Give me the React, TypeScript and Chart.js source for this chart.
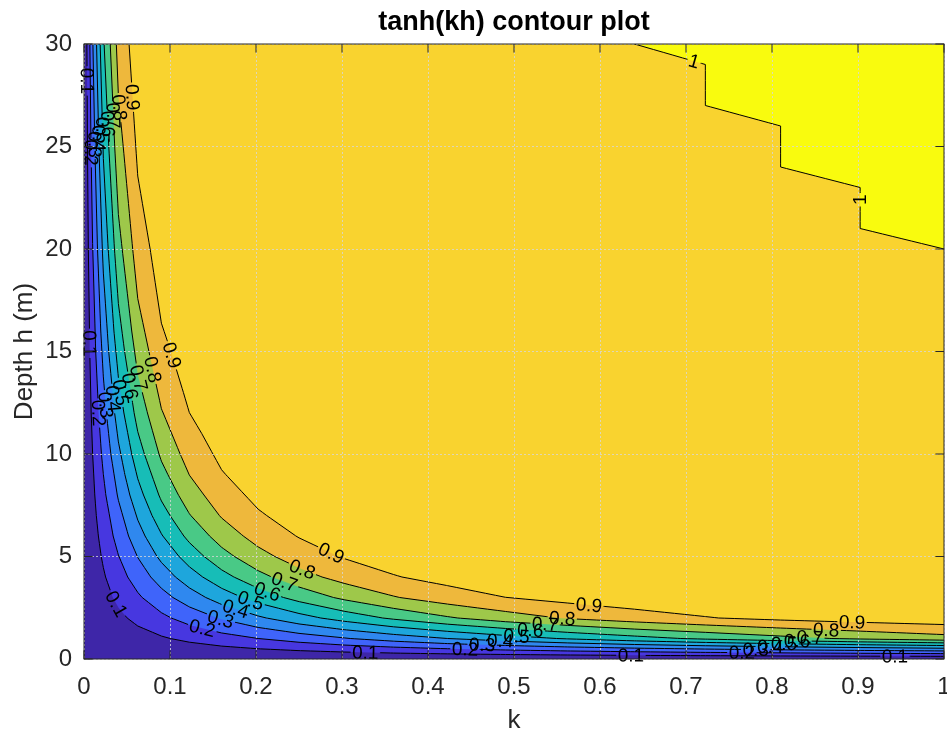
import React, { useEffect, useRef } from "react";
import { Chart, registerables } from "chart.js";

Chart.register(...registerables);

const FONT = "'Liberation Sans', Arial, Helvetica, sans-serif";
const AXIS_COLOR = "#262626";
const GRID_COLOR = "rgba(215,215,215,0.8)";
const TICK_LEN = 8.6;
const LABEL_FONT = `19px ${FONT}`;

// Axis extents and tick labels
const kRange = [0, 1];
const hRange = [0, 30];
const kTickLabels = ["0", "0.1", "0.2", "0.3", "0.4", "0.5", "0.6", "0.7", "0.8", "0.9", "1"];
const hTickLabels = ["0", "5", "10", "15", "20", "25", "30"];

// Contour levels of tanh(kh)
const levels = [0.1, 0.2, 0.3, 0.4, 0.5, 0.6, 0.7, 0.8, 0.9, 1];

// Contour lines, as [k, h] vertices ordered by increasing k
const contour01 = [
  [0.00337, 30], [0.00404, 25], [0.00505, 20], [0.00671, 15], [0.00837, 12], [0.01, 10.03],
  [0.01254, 8], [0.01433, 7], [0.01672, 6], [0.02006, 5], [0.0225, 4.46], [0.0251, 4],
  [0.0335, 3], [0.04, 2.51], [0.0502, 2], [0.0625, 1.61], [0.09, 1.12], [0.1004, 1],
  [0.1225, 0.82], [0.16, 0.63], [0.2025, 0.5], [0.25, 0.408], [0.3025, 0.341], [0.36, 0.29],
  [0.4225, 0.251], [0.49, 0.22], [0.5625, 0.196], [0.64, 0.177], [0.7225, 0.162],
  [0.81, 0.149], [0.9025, 0.139], [1, 0.131],
];
const contour02 = [
  [0.00684, 30], [0.00815, 25], [0.01, 20.27], [0.0136, 15], [0.017, 12], [0.0203, 10],
  [0.0225, 9.01], [0.0254, 8], [0.0339, 6], [0.04, 5.07], [0.0508, 4], [0.0625, 3.25],
  [0.0677, 3], [0.09, 2.26], [0.1015, 2], [0.1225, 1.66], [0.16, 1.27], [0.2025, 1.0],
  [0.25, 0.817], [0.3025, 0.681], [0.36, 0.579], [0.4225, 0.501], [0.49, 0.44],
  [0.5625, 0.392], [0.64, 0.354], [0.7225, 0.323], [0.81, 0.299], [0.9025, 0.279], [1, 0.263],
];
const contour03 = [
  [0.01037, 30], [0.0126, 25], [0.0157, 20], [0.0195, 16], [0.0225, 13.76], [0.026, 12],
  [0.0312, 10], [0.0387, 8], [0.04, 7.74], [0.0518, 6], [0.0625, 4.95], [0.0776, 4],
  [0.09, 3.45], [0.1034, 3], [0.1225, 2.54], [0.1549, 2], [0.16, 1.94], [0.2025, 1.54],
  [0.25, 1.25], [0.3025, 1.03], [0.3096, 1], [0.36, 0.869], [0.4225, 0.752], [0.49, 0.66],
  [0.5625, 0.588], [0.64, 0.531], [0.7225, 0.485], [0.81, 0.448], [0.9025, 0.418], [1, 0.394],
];
const contour04 = [
  [0.0146, 30], [0.0173, 25], [0.0213, 20], [0.0225, 18.83], [0.0287, 15], [0.0356, 12],
  [0.04, 10.59], [0.0475, 9], [0.0533, 8], [0.0625, 6.78], [0.071, 6], [0.0849, 5],
  [0.09, 4.71], [0.1063, 4], [0.1225, 3.47], [0.1416, 3], [0.16, 2.66], [0.2025, 2.1],
  [0.2121, 2], [0.25, 1.71], [0.3025, 1.43], [0.36, 1.2], [0.4225, 1.0], [0.49, 0.881],
  [0.5625, 0.785], [0.64, 0.708], [0.7225, 0.647], [0.81, 0.597], [0.9025, 0.558], [1, 0.525],
];
const contour05 = [
  [0.0188, 30], [0.0225, 24.41], [0.0281, 20], [0.0348, 16], [0.04, 13.73], [0.0464, 12],
  [0.0555, 10], [0.0625, 8.79], [0.0692, 8], [0.0791, 7], [0.09, 6.11], [0.0917, 6],
  [0.1105, 5], [0.1225, 4.5], [0.138, 4], [0.16, 3.45], [0.1838, 3], [0.2025, 2.73],
  [0.25, 2.22], [0.2753, 2], [0.3025, 1.84], [0.36, 1.57], [0.4225, 1.35], [0.49, 1.15],
  [0.5496, 1], [0.5625, 0.981], [0.64, 0.885], [0.7225, 0.808], [0.81, 0.747],
  [0.9025, 0.697], [1, 0.657],
];
const contour06 = [
  [0.0234, 30], [0.0288, 25], [0.0354, 20], [0.04, 17.33], [0.0472, 15], [0.0583, 12],
  [0.0625, 11.09], [0.0702, 10], [0.087, 8], [0.09, 7.71], [0.1, 7], [0.1161, 6],
  [0.1225, 5.68], [0.1397, 5], [0.16, 4.35], [0.1743, 4], [0.2025, 3.45], [0.232, 3],
  [0.25, 2.8], [0.3025, 2.33], [0.3473, 2], [0.36, 1.94], [0.4225, 1.7], [0.49, 1.49],
  [0.5625, 1.3], [0.64, 1.12], [0.694, 1], [0.7225, 0.97], [0.81, 0.896], [0.9025, 0.836],
  [1, 0.788],
];
const contour07 = [
  [0.0305, 30], [0.0357, 25], [0.04, 21.68], [0.0444, 20], [0.0555, 16], [0.0625, 13.88],
  [0.0738, 12], [0.0872, 10], [0.09, 9.65], [0.0975, 9], [0.1098, 8], [0.1225, 7.09],
  [0.1242, 7], [0.146, 6], [0.16, 5.45], [0.1749, 5], [0.2025, 4.31], [0.2182, 4],
  [0.25, 3.51], [0.2901, 3], [0.3025, 2.89], [0.36, 2.47], [0.4225, 2.07], [0.4346, 2],
  [0.49, 1.82], [0.5625, 1.64], [0.64, 1.46], [0.7225, 1.3], [0.81, 1.12], [0.8687, 1],
  [0.9025, 0.976], [1, 0.919],
];
const contour08 = [
  [0.0376, 30], [0.04, 27.47], [0.0456, 25], [0.0566, 20], [0.0625, 17.58], [0.0755, 15],
  [0.09, 12.21], [0.0921, 12], [0.1118, 10], [0.1225, 8.97], [0.1395, 8], [0.1574, 7],
  [0.16, 6.88], [0.1852, 6], [0.2025, 5.47], [0.2219, 5], [0.25, 4.44], [0.2768, 4],
  [0.3025, 3.69], [0.36, 3.07], [0.3671, 3], [0.4225, 2.68], [0.49, 2.32], [0.5505, 2],
  [0.5625, 1.97], [0.64, 1.81], [0.7225, 1.66], [0.81, 1.51], [0.9025, 1.36], [1, 1.19],
];
const contour09 = [
  [0.0524, 30], [0.0602, 25], [0.0625, 23.56], [0.0769, 20], [0.0841, 18], [0.09, 16.38],
  [0.101, 15], [0.1156, 13], [0.1225, 12.02], [0.1369, 11], [0.1499, 10], [0.16, 9.23],
  [0.1648, 9], [0.1871, 8], [0.2025, 7.31], [0.2124, 7], [0.2464, 6], [0.25, 5.91],
  [0.2959, 5], [0.3025, 4.9], [0.36, 4.12], [0.3697, 4], [0.4225, 3.58], [0.49, 3.01],
  [0.5625, 2.73], [0.64, 2.43], [0.7225, 2.07], [0.738, 2], [0.81, 1.9], [0.9025, 1.79],
  [1, 1.68],
];
const contour10 = [
  [0.64, 30], [0.7225, 29], [0.7225, 27], [0.81, 26], [0.81, 24], [0.9025, 23], [0.9025, 21], [1, 20],
];

const contours = [
  contour01, contour02, contour03, contour04, contour05,
  contour06, contour07, contour08, contour09, contour10,
];

// Band colours (parula): below the first level, then one band per level
const bandColors = [
  "#3e26a8", "#4737e0", "#3f64fa", "#2f88ef", "#1ea6dc", "#17bdb7",
  "#49c986", "#9ec84a", "#eeb83c", "#f9d32f", "#f9fb0e",
];

// Inline contour labels: [level, k, h] near where each label sits
const labelSpots = [
  [0.1, 0.003, 28.2], [0.2, 0.007, 24.7], [0.3, 0.011, 25.1], [0.4, 0.016, 25.4],
  [0.5, 0.021, 25.8], [0.6, 0.027, 26.1], [0.7, 0.033, 26.5], [0.8, 0.041, 26.9],
  [0.9, 0.055, 27.4],
  [0.1, 0.006, 15.4], [0.2, 0.017, 12.0], [0.3, 0.025, 12.4], [0.4, 0.034, 12.7],
  [0.5, 0.043, 13.0], [0.6, 0.052, 13.3], [0.7, 0.063, 13.7], [0.8, 0.078, 14.1],
  [0.9, 0.101, 14.8],
  [0.1, 0.037, 2.68], [0.2, 0.137, 1.41], [0.3, 0.159, 1.95], [0.4, 0.177, 2.54],
  [0.5, 0.194, 2.88], [0.6, 0.213, 3.27], [0.7, 0.233, 3.76], [0.8, 0.253, 4.29],
  [0.9, 0.287, 5.12],
  [0.1, 0.327, 0.29], [0.2, 0.443, 0.49], [0.3, 0.463, 0.73], [0.4, 0.484, 0.93],
  [0.5, 0.503, 1.22], [0.6, 0.519, 1.41], [0.7, 0.536, 1.61], [0.8, 0.556, 1.95],
  [0.9, 0.587, 2.59],
  [0.1, 0.636, 0.2], [0.2, 0.765, 0.39], [0.3, 0.781, 0.46], [0.4, 0.798, 0.6],
  [0.5, 0.814, 0.75], [0.6, 0.829, 0.88], [0.7, 0.844, 1.05], [0.8, 0.863, 1.37],
  [0.9, 0.893, 1.71], [0.1, 0.943, 0.13],
  [1, 0.709, 29.1], [1, 0.905, 22.4],
];

const toXY = (pts: number[][]) => pts.map(([x, y]) => ({ x, y }));

type Spot = { li: number; text: string; x: number; y: number; ang: number; w: number };

// Places labels on their contour, breaks the line under them, draws the axes box
const contourDecor = {
  id: "contourDecor",
  beforeDatasetsDraw(chart: any) {
    const xs = chart.scales.x;
    const ys = chart.scales.y;
    const ctx = chart.ctx;
    ctx.save();
    ctx.font = LABEL_FONT;
    const spots: Spot[] = labelSpots.map(([lv, k, h]) => {
      const li = levels.indexOf(lv);
      const pts = contours[li].map(([a, b]) => [xs.getPixelForValue(a), ys.getPixelForValue(b)]);
      const px = xs.getPixelForValue(k);
      const py = ys.getPixelForValue(h);
      let best = { d: Infinity, x: px, y: py, ang: 0 };
      for (let i = 0; i < pts.length - 1; i++) {
        const [ax, ay] = pts[i];
        const [bx, by] = pts[i + 1];
        const dx = bx - ax;
        const dy = by - ay;
        const l2 = dx * dx + dy * dy;
        if (!l2) continue;
        let t = ((px - ax) * dx + (py - ay) * dy) / l2;
        t = Math.max(0, Math.min(1, t));
        const qx = ax + t * dx;
        const qy = ay + t * dy;
        const d = (qx - px) ** 2 + (qy - py) ** 2;
        if (d < best.d) best = { d, x: qx, y: qy, ang: Math.atan2(dy, dx) };
      }
      let ang = best.ang;
      if (ang > Math.PI / 2 - 1e-3) ang -= Math.PI;
      else if (ang < -Math.PI / 2) ang += Math.PI;
      const text = String(lv);
      return { li, text, x: best.x, y: best.y, ang, w: ctx.measureText(text).width };
    });
    ctx.restore();
    chart.$contourSpots = spots;
  },
  beforeDatasetDraw(chart: any, args: any) {
    const ds = chart.data.datasets[args.index];
    if (ds.levelIndex === undefined) return;
    const ctx = chart.ctx;
    ctx.save();
    ctx.beginPath();
    ctx.rect(0, 0, chart.width, chart.height);
    for (const s of chart.$contourSpots as Spot[]) {
      if (s.li !== ds.levelIndex) continue;
      const hw = s.w / 2 + 1.5;
      const hh = 8;
      const c = Math.cos(s.ang);
      const sn = Math.sin(s.ang);
      const corners = [[-hw, -hh], [hw, -hh], [hw, hh], [-hw, hh]].map(([u, v]) => [
        s.x + u * c - v * sn,
        s.y + u * sn + v * c,
      ]);
      ctx.moveTo(corners[0][0], corners[0][1]);
      for (let i = 1; i < 4; i++) ctx.lineTo(corners[i][0], corners[i][1]);
      ctx.closePath();
    }
    ctx.clip("evenodd");
  },
  afterDatasetDraw(chart: any, args: any) {
    const ds = chart.data.datasets[args.index];
    if (ds.levelIndex === undefined) return;
    chart.ctx.restore();
  },
  afterDraw(chart: any) {
    const ctx = chart.ctx;
    const xs = chart.scales.x;
    const ys = chart.scales.y;
    const { left, right, top, bottom } = chart.chartArea;

    ctx.save();
    ctx.font = LABEL_FONT;
    ctx.fillStyle = "#000";
    ctx.textAlign = "center";
    ctx.textBaseline = "middle";
    for (const s of chart.$contourSpots as Spot[]) {
      ctx.save();
      ctx.translate(s.x, s.y);
      ctx.rotate(s.ang);
      ctx.fillText(s.text, 0, 1);
      ctx.restore();
    }

    ctx.strokeStyle = AXIS_COLOR;
    ctx.lineWidth = 1;
    ctx.beginPath();
    for (const t of xs.ticks) {
      const px = xs.getPixelForValue(t.value);
      ctx.moveTo(px, bottom);
      ctx.lineTo(px, bottom - TICK_LEN);
      ctx.moveTo(px, top);
      ctx.lineTo(px, top + TICK_LEN);
    }
    for (const t of ys.ticks) {
      const py = ys.getPixelForValue(t.value);
      ctx.moveTo(left, py);
      ctx.lineTo(left + TICK_LEN, py);
      ctx.moveTo(right, py);
      ctx.lineTo(right - TICK_LEN, py);
    }
    ctx.stroke();
    ctx.strokeRect(left, top, right - left, bottom - top);
    ctx.restore();
  },
};

export default function App() {
  const canvasRef = useRef<HTMLCanvasElement>(null);

  useEffect(() => {
    const canvas = canvasRef.current;
    if (!canvas) return;

    const datasets: any[] = [];
    // lowest band covers the whole plot
    datasets.push({
      data: toXY([
        [kRange[0], hRange[0]], [kRange[1], hRange[0]], [kRange[1], hRange[1]], [kRange[0], hRange[1]],
      ]),
      fill: "shape",
      backgroundColor: bandColors[0],
      borderWidth: 0,
      order: 100,
    });
    // each level's band: region above/right of its contour
    contours.forEach((c, i) => {
      datasets.push({
        data: toXY([...c, [kRange[1], hRange[1]]]),
        fill: "shape",
        backgroundColor: bandColors[i + 1],
        borderWidth: 0,
        order: 99 - i,
      });
    });
    // contour lines
    contours.forEach((c, i) => {
      datasets.push({
        data: toXY(c),
        fill: false,
        borderColor: "#000",
        borderWidth: 1,
        order: 0,
        levelIndex: i,
      });
    });

    const chart = new Chart(canvas, {
      type: "line",
      data: { datasets },
      options: {
        responsive: false,
        animation: false,
        events: [],
        layout: { padding: { left: 0, right: 3, top: 0, bottom: 0 } },
        elements: {
          point: { radius: 0, hoverRadius: 0 },
          line: { tension: 0, borderDash: [10, 0] },
        },
        plugins: {
          legend: { display: false },
          tooltip: { enabled: false },
          title: {
            display: true,
            fullSize: false,
            text: "tanh(kh) contour plot",
            color: "#000",
            font: { family: FONT, size: 27, weight: "bold" },
            padding: { top: 6, bottom: 5.6 },
          },
        },
        scales: {
          x: {
            type: "linear",
            min: kRange[0],
            max: kRange[1],
            ticks: {
              stepSize: 0.1,
              autoSkip: false,
              maxRotation: 0,
              color: AXIS_COLOR,
              font: { family: FONT, size: 24 },
              padding: 14,
              callback: (_v: any, i: number) => kTickLabels[i],
            },
            grid: { color: GRID_COLOR, lineWidth: 1, drawTicks: false, z: 1 },
            border: { display: false, dash: [2, 2] },
            title: {
              display: true,
              text: "k",
              color: AXIS_COLOR,
              font: { family: FONT, size: 26 },
              padding: { top: 0, bottom: 0 },
            },
            afterFit: (s: any) => {
              s.height = 77;
              s.paddingLeft = 0;
              s.paddingRight = 0;
            },
          },
          y: {
            type: "linear",
            min: hRange[0],
            max: hRange[1],
            ticks: {
              stepSize: 5,
              autoSkip: false,
              color: AXIS_COLOR,
              font: { family: FONT, size: 24 },
              padding: 12,
              callback: (_v: any, i: number) => hTickLabels[i],
            },
            grid: { color: GRID_COLOR, lineWidth: 1, drawTicks: false, z: 1 },
            border: { display: false, dash: [2, 2] },
            title: {
              display: true,
              text: "Depth h (m)",
              color: AXIS_COLOR,
              font: { family: FONT, size: 26 },
              padding: { top: 9.4, bottom: 0 },
            },
            afterFit: (s: any) => {
              s.width = 84;
              s.paddingTop = 0;
              s.paddingBottom = 0;
            },
          },
        },
      },
      plugins: [contourDecor],
    } as any);

    return () => chart.destroy();
  }, []);

  return (
    <div style={{ position: "absolute", left: 0, top: 0, width: 947, height: 736, background: "#fff" }}>
      <canvas ref={canvasRef} width={947} height={736} style={{ display: "block", width: 947, height: 736 }} />
    </div>
  );
}
